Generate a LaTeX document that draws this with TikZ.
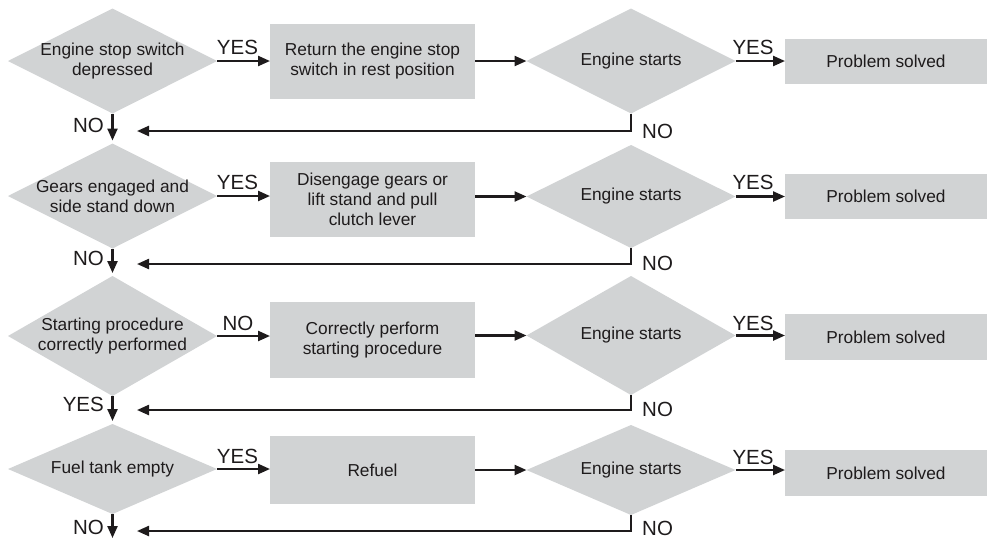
\documentclass[tikz,border=0pt]{standalone}
\usepackage{fontspec}
\setmainfont{Liberation Sans}
\usetikzlibrary{shapes.geometric,arrows.meta}
\definecolor{boxgray}{RGB}{209,211,212}
\definecolor{ink}{RGB}{30,27,28}
\begin{document}
\begin{tikzpicture}[x=1pt,y=-1pt,
  dia/.style={diamond,fill=boxgray,draw=none,inner sep=0pt,outer sep=0pt,minimum width=209pt,minimum height=#1},
  dtext/.style={align=center,text=ink,font=\fontsize{17.3}{20}\selectfont,inner sep=0pt},
  box/.style={rectangle,fill=boxgray,inner sep=0pt,outer sep=0pt,minimum width=205pt,minimum height=#1,align=center,text=ink,font=\fontsize{17.3}{20}\selectfont},
  psbox/.style={rectangle,fill=boxgray,inner sep=0pt,outer sep=0pt,minimum width=202pt,minimum height=#1,text=ink,font=\fontsize{17.3}{20}\selectfont},
  lab/.style={text=ink,font=\fontsize{20.5}{24}\selectfont,inner sep=0pt},
  conn/.style={draw=ink,line width=2.3pt,-{Triangle[length=12pt,width=10pt]}}]
\useasboundingbox (0,0) rectangle (987,539);

% Row 1
\node[dia=105pt] (d1) at (112.5,61) {};
\node[dtext] (t1) at (d1.center) {Engine stop switch\\depressed};
\node[box=75pt] (b1) at (372.5,61.5) {Return the engine stop\\switch in rest position};
\node[dia=105pt] (r1) at (631,61) {};
\node[dtext] (s1) at (r1.center) {Engine starts};
\node[psbox=45pt] (p1) at (886,61.5) {Problem solved};
% Row 2
\node[dia=105pt] (d2) at (112.5,196) {};
\node[dtext] (t2) at (d2.center) {Gears engaged and\\side stand down};
\node[box=75pt] (b2) at (372.5,199.5) {Disengage gears or\\lift stand and pull\\clutch lever};
\node[dia=103pt] (r2) at (631,196.5) {};
\node[dtext] (s2) at (r2.center) {Engine starts};
\node[psbox=45pt] (p2) at (886,196.5) {Problem solved};
% Row 3
\node[dia=120pt] (d3) at (112.5,336) {};
\node[dtext] (t3) at (d3.center) {Starting procedure\\correctly performed};
\node[box=76pt] (b3) at (372.5,340) {Correctly perform\\starting procedure};
\node[dia=119pt] (r3) at (631,335.5) {};
\node[dtext] (s3) at (r3.center) {Engine starts};
\node[psbox=46pt] (p3) at (886,337) {Problem solved};
% Row 4
\node[dia=90pt] (d4) at (112.5,469) {};
\node[dtext] (t4) at (d4.center) {Fuel tank empty};
\node[box=68pt] (b4) at (372.5,470) {Refuel};
\node[dia=90pt] (r4) at (631,470) {};
\node[dtext] (s4) at (r4.center) {Engine starts};
\node[psbox=46pt] (p4) at (886,473) {Problem solved};

% loop-back end points
\coordinate (l1) at (137,131);
\coordinate (l2) at (137,264);
\coordinate (l3) at (137,410);
\coordinate (l4) at (137,531);
\coordinate (e4) at (112.5,538);

% horizontal connectors
\foreach \i in {1,2,3,4}{
  \draw[conn] (d\i.east) -- (b\i.west |- d\i.east);
  \draw[conn] (b\i.east |- r\i.west) -- (r\i.west);
  \draw[conn] (r\i.east) -- (p\i.west |- r\i.east);
  \draw[conn] (r\i.south) |- (l\i);
}
% vertical connectors
\draw[conn,shorten >=3pt] (d1.south) -- (d2.north);
\draw[conn,shorten >=3pt] (d2.south) -- (d3.north);
\draw[conn,shorten >=3pt] (d3.south) -- (d4.north);
\draw[conn] (d4.south) -- (e4);

% labels on arrows to boxes
\node[lab] (ya1) at (237.5,47) {YES};
\node[lab] (ya2) at (237.5,182.5) {YES};
\node[lab] (ya3) at (238,323.5) {NO};
\node[lab] (ya4) at (237.5,456) {YES};
% labels on arrows to Problem solved
\node[lab] (yb1) at (753,47) {YES};
\node[lab] (yb2) at (753,182.5) {YES};
\node[lab] (yb3) at (753,323.5) {YES};
\node[lab] (yb4) at (753,457) {YES};
% labels on down arrows
\node[lab,anchor=east] (nd1) at (104,125) {NO};
\node[lab,anchor=east] (nd2) at (104,258) {NO};
\node[lab,anchor=east] (nd3) at (104,404) {YES};
\node[lab,anchor=east] (nd4) at (104,527) {NO};
% labels on loop-back lines
\node[lab,anchor=west] (nl1) at (642,131) {NO};
\node[lab,anchor=west] (nl2) at (642,263) {NO};
\node[lab,anchor=west] (nl3) at (642,409) {NO};
\node[lab,anchor=west] (nl4) at (642,528) {NO};
\end{tikzpicture}
\end{document}
